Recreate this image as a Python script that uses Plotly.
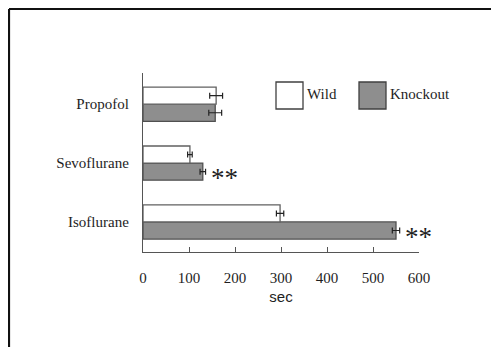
import plotly.graph_objects as go

categories = ["Isoflurane", "Sevoflurane", "Propofol"]
wild = [298, 102, 159]
wild_err = [8, 5, 14]
knockout = [550, 130, 157]
knockout_err = [8, 6, 14]
significant = ["**", "**", ""]
x_ticks = [0, 100, 200, 300, 400, 500, 600]

# page has an 8px body margin; figure sized to fill the rest
OFF = 8
W, H = 499 - OFF, 347 - OFF
AX_L, AX_R, AX_T, AX_B = 143, 419, 73, 252   # plot area in page pixels
L, R, T, B = AX_L - OFF, W - (AX_R - OFF), AX_T - OFF, H - (AX_B - OFF)
bargap = 0.42
pos = list(range(len(categories)))

serif = "Liberation Serif, Times New Roman, serif"
txt = "#1e1e1e"

fig = go.Figure()
fig.add_trace(go.Bar(
    y=pos, x=knockout, orientation="h", name="Knockout",
    marker=dict(color="#8e8e8e", line=dict(color="#505050", width=1.3)),
    error_x=dict(type="data", array=knockout_err, color="#222", thickness=1.2, width=3),
    showlegend=False,
))
fig.add_trace(go.Bar(
    y=pos, x=wild, orientation="h", name="Wild",
    marker=dict(color="#ffffff", line=dict(color="#606060", width=1.3)),
    error_x=dict(type="data", array=wild_err, color="#222", thickness=1.2, width=3),
    showlegend=False,
))

off = (1 - bargap) / 4
for i, s in enumerate(significant):
    if s:
        fig.add_annotation(
            x=knockout[i] + knockout_err[i], y=pos[i] - off, text=s,
            xref="x", yref="y", showarrow=False, xanchor="left", yanchor="middle",
            xshift=3, yshift=-6, font=dict(family=serif, size=27, color=txt),
        )

# manual legend (positions in page pixels)
pw, ph = AX_R - AX_L, AX_B - AX_T
def px(x): return (x - AX_L) / pw
def py(y): return (AX_B - y) / ph
for x0, fill, label in [(276, "#ffffff", "Wild"), (359, "#8e8e8e", "Knockout")]:
    fig.add_shape(type="rect", xref="paper", yref="paper",
                  x0=px(x0), x1=px(x0 + 27), y0=py(109), y1=py(82),
                  fillcolor=fill, line=dict(color="#404040", width=1.3))
    fig.add_annotation(x=px(x0 + 29), y=py(94), xref="paper", yref="paper",
                       text=label, showarrow=False, xanchor="left", yanchor="middle",
                       font=dict(family=serif, size=15, color=txt))

# page border (top and left)
fig.add_shape(type="line", xref="paper", yref="paper",
              x0=px(9), x1=px(520), y0=py(9), y1=py(9),
              line=dict(color="#111", width=2.2))
fig.add_shape(type="line", xref="paper", yref="paper",
              x0=px(9), x1=px(9), y0=py(9), y1=py(360),
              line=dict(color="#111", width=2.2))

fig.update_layout(
    width=W, height=H, margin=dict(l=L, r=R, t=T, b=B),
    paper_bgcolor="white", plot_bgcolor="white",
    barmode="group", bargap=bargap, bargroupgap=0,
    font=dict(family=serif, size=15, color=txt),
)
fig.update_xaxes(
    range=[0, 600], tickvals=x_ticks, ticks="inside", ticklen=5, tickcolor="#555",
    showline=True, linecolor="#555", linewidth=1.3, showgrid=False, zeroline=False,
    ticklabelstandoff=12,
    title=dict(text="sec", font=dict(family="Liberation Sans, Arial, sans-serif", size=15, color=txt), standoff=6),
)
fig.update_yaxes(
    range=[-0.51, 2.53], tickvals=pos, ticktext=categories, ticks="",
    showline=True, linecolor="#555", linewidth=1.3, showgrid=False, zeroline=False,
    ticklabelstandoff=10,
)

fig.write_html("out.html")
